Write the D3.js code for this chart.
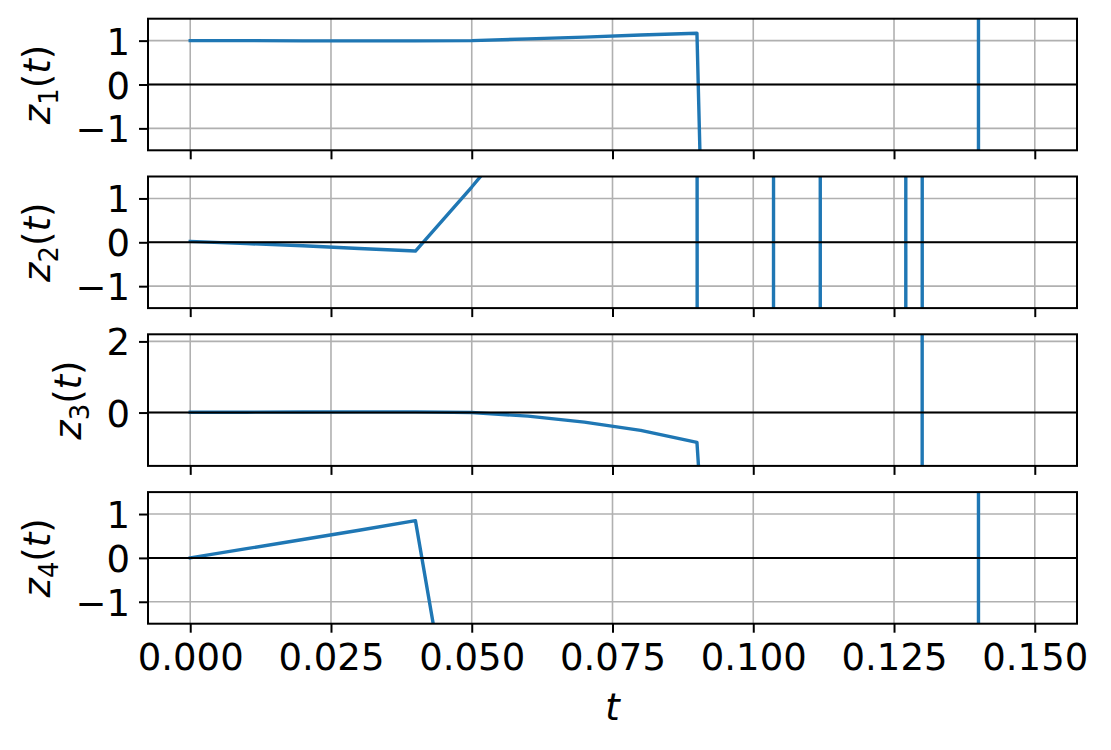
<!DOCTYPE html>
<html>
<head>
<meta charset="utf-8">
<script src="https://cdn.jsdelivr.net/npm/d3@7"></script>
<style>
  body { margin: 0; background: #fff; }
  svg { display: block; }
  text { font-family: "DejaVu Sans", sans-serif; fill: #000; }
</style>
</head>
<body>
<div id="chart"></div>
<script>
// sample times (s)
const times = [0, 0.01, 0.02, 0.03, 0.04, 0.05, 0.06, 0.07, 0.08, 0.09, 0.10, 0.11, 0.12, 0.13, 0.14, 0.15]

// state components (values past the axes blow up)
const z1 = [1.0, 1.0, 0.995, 0.995, 0.995, 1.0, 1.04, 1.08, 1.13, 1.17, -50, -200, -800, -3000, -1e4, 1e8]
const z2 = [0.02, -0.03, -0.08, -0.14, -0.2, 1.26, 2.8, 5, 9, 10, -3000, 5333, -22700, 9300, -1e7, -1e9]
const z3 = [0.01, 0.01, 0.015, 0.02, 0.02, 0.0, -0.1, -0.27, -0.5, -0.84, -25, -100, -400, -1500, 1e7, 1e9]
const z4 = [0, 0.21, 0.42, 0.63, 0.85, -6.6, -20, -60, -150, -400, -1000, -2500, -6000, -15000, -40000, 1e9]

// axis settings
const xTicks = [0, 0.025, 0.05, 0.075, 0.1, 0.125, 0.15]
const xLim = [-0.0075, 0.1575]
const yTicksA = [-1, 0, 1]
const yTicksB = [0, 2]
const yLimA = [-1.5, 1.5]
const yLimB = [-1.5, 2.2]

const series = [
    { sub: '1', values: z1, lim: yLimA, ticks: yTicksA },
    { sub: '2', values: z2, lim: yLimA, ticks: yTicksA },
    { sub: '3', values: z3, lim: yLimB, ticks: yTicksB },
    { sub: '4', values: z4, lim: yLimA, ticks: yTicksA }
]

////////////////////////////////////
////////////// layout //////////////
////////////////////////////////////

const svgWidth = 1111
const svgHeight = 750
const left = 148
const right = 1077
const firstTop = 18.7
const panelH = 131.6
const panelStep = 157.8
const fs = 37
const tickLen = 9
const tickPad = 9
const blue = '#1f77b4'
const gridColor = '#b0b0b0'

const svg = d3.select('#chart')
    .append('svg')
    .attr('width', svgWidth)
    .attr('height', svgHeight)

const x = d3.scaleLinear().domain(xLim).range([left, right])

// clip a polyline to a band of values, breaking it where it leaves the band
function clipLine(ts, vs, lo, hi) {
    const pts = []
    let last = null
    for (let i = 0; i < ts.length - 1; i++) {
        const t0 = ts[i], v0 = vs[i], t1 = ts[i + 1], v1 = vs[i + 1]
        const dv = v1 - v0
        let a = 0, b = 1
        if (dv === 0) {
            if (v0 < lo || v0 > hi) continue
        } else {
            let p = (lo - v0) / dv, q = (hi - v0) / dv
            if (p > q) [p, q] = [q, p]
            a = Math.max(a, p)
            b = Math.min(b, q)
            if (a > b) continue
        }
        const s = a === 0 ? { t: t0, v: v0 } : { t: t0 + a * (t1 - t0), v: v0 + a * dv }
        const e = b === 1 ? { t: t1, v: v1 } : { t: t0 + b * (t1 - t0), v: v0 + b * dv }
        if (!last || last.t !== s.t || last.v !== s.v) {
            if (pts.length) pts.push(null)
            pts.push(s)
        }
        pts.push(e)
        last = e
    }
    return pts
}

series.forEach((s, i) => {
    const top = firstTop + i * panelStep
    const bottom = top + panelH
    const y = d3.scaleLinear().domain(s.lim).range([bottom, top])
    const g = svg.append('g')

    const clipId = 'clip' + i
    svg.append('clipPath').attr('id', clipId)
        .append('rect')
        .attr('x', left).attr('y', top)
        .attr('width', right - left).attr('height', panelH)

    // grid
    g.append('g').selectAll('line')
        .data(xTicks)
        .join('line')
        .attr('x1', d => x(d)).attr('x2', d => x(d))
        .attr('y1', top).attr('y2', bottom)
        .attr('stroke', gridColor).attr('stroke-width', 1.6)

    g.append('g').selectAll('line')
        .data(s.ticks)
        .join('line')
        .attr('x1', left).attr('x2', right)
        .attr('y1', d => y(d)).attr('y2', d => y(d))
        .attr('stroke', gridColor).attr('stroke-width', 1.6)

    // data line
    const span = s.lim[1] - s.lim[0]
    const pts = clipLine(times, s.values, s.lim[0] - 0.2 * span, s.lim[1] + 0.2 * span)
    const line = d3.line()
        .defined(d => d !== null)
        .x(d => x(d.t))
        .y(d => y(d.v))

    g.append('path')
        .attr('d', line(pts))
        .attr('clip-path', `url(#${clipId})`)
        .attr('fill', 'none')
        .attr('stroke', blue)
        .attr('stroke-width', 3.4)
        .attr('stroke-linejoin', 'round')
        .attr('stroke-linecap', 'square')

    // zero line
    g.append('line')
        .attr('x1', left).attr('x2', right)
        .attr('y1', y(0)).attr('y2', y(0))
        .attr('stroke', '#000').attr('stroke-width', 2)

    // y axis ticks
    const yAxis = d3.axisLeft(y)
        .tickValues(s.ticks)
        .tickSize(tickLen)
        .tickPadding(tickPad)
        .tickFormat(d => d3.format('d')(d).replace('-', '\u2212'))
    const ya = g.append('g')
        .attr('transform', `translate(${left},0)`)
        .call(yAxis)
    ya.select('.domain').remove()
    ya.selectAll('line').attr('stroke', '#000').attr('stroke-width', 2)
    ya.selectAll('text')
        .attr('font-size', fs)
        .attr('font-family', 'DejaVu Sans')
        .attr('dy', '0.365em')
        .attr('fill', '#000')

    // x axis ticks (labels only on the last panel)
    const xAxis = d3.axisBottom(x)
        .tickValues(xTicks)
        .tickSize(tickLen)
        .tickPadding(tickPad)
        .tickFormat(i === series.length - 1 ? d3.format('.3f') : '')
    const xa = g.append('g')
        .attr('transform', `translate(0,${bottom})`)
        .call(xAxis)
    xa.select('.domain').remove()
    xa.selectAll('line').attr('stroke', '#000').attr('stroke-width', 2)
    xa.selectAll('text')
        .attr('font-size', fs)
        .attr('font-family', 'DejaVu Sans')
        .attr('dy', '0.76em')
        .attr('fill', '#000')

    // frame
    g.append('rect')
        .attr('x', left).attr('y', top)
        .attr('width', right - left).attr('height', panelH)
        .attr('fill', 'none')
        .attr('stroke', '#000').attr('stroke-width', 2)

    // y label z_i(t), placed left of the widest tick label
    let minX = left
    ya.selectAll('text').each(function () {
        minX = Math.min(minX, this.getBBox().x + left)
    })
    const lx = minX - 25
    const ly = (top + bottom) / 2
    const lab = svg.append('text')
        .attr('transform', `translate(${lx},${ly}) rotate(-90)`)
        .attr('text-anchor', 'middle')
        .attr('font-size', fs)
    lab.append('tspan').attr('font-style', 'italic').text('z')
    lab.append('tspan').attr('font-size', fs * 0.7).attr('dy', fs * 0.2).text(s.sub)
    lab.append('tspan').attr('dy', -fs * 0.2).text('(')
    lab.append('tspan').attr('font-style', 'italic').text('t')
    lab.append('tspan').text(')')
})

// x label
svg.append('text')
    .attr('x', (left + right) / 2)
    .attr('y', 720)
    .attr('text-anchor', 'middle')
    .attr('font-size', fs)
    .attr('font-style', 'italic')
    .text('t')
</script>
</body>
</html>
